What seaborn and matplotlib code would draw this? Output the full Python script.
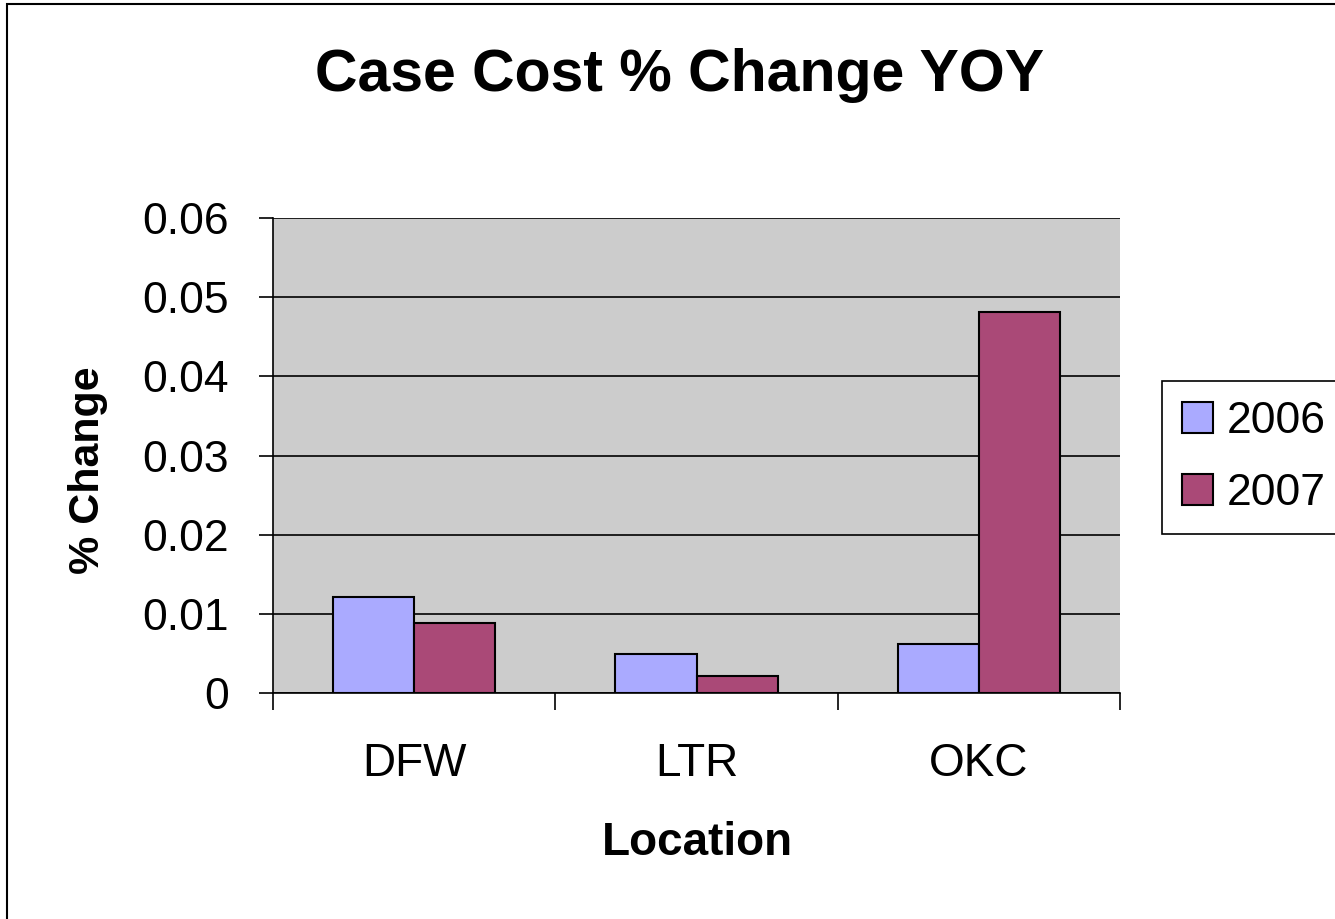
import matplotlib
matplotlib.use("Agg")
import matplotlib.pyplot as plt
import numpy as np
import pandas as pd
import seaborn as sns
from matplotlib.patches import Rectangle

# Data
locations = ["DFW", "LTR", "OKC"]
years = ["2006", "2007"]
change_2006 = [0.0121, 0.0049, 0.0062]
change_2007 = [0.0089, 0.0022, 0.0481]

df = pd.DataFrame({
    "Location": locations * 2,
    "Year": [years[0]] * 3 + [years[1]] * 3,
    "Change": change_2006 + change_2007,
})

sns.set_theme(style="white")
plt.rcParams["font.family"] = ["Liberation Sans", "DejaVu Sans"]
plt.rcParams["text.color"] = "black"
plt.rcParams["xtick.color"] = "black"
plt.rcParams["ytick.color"] = "black"
plt.rcParams["xtick.labelcolor"] = "black"
plt.rcParams["ytick.labelcolor"] = "black"

W, H = 1335, 919
fig = plt.figure(figsize=(W / 100, H / 100), dpi=100)
fig.patch.set_facecolor("white")

# plot area in pixel terms
left, right, top, bottom = 273, 1120, 218, 693
ax = fig.add_axes([left / W, 1 - bottom / H, (right - left) / W, (bottom - top) / H])

sns.barplot(
    data=df,
    x="Location",
    y="Change",
    hue="Year",
    palette=["#AAAAFF", "#AA4977"],
    width=0.575,
    saturation=1,
    edgecolor="black",
    linewidth=1.5,
    ax=ax,
)

ax.set_facecolor("#CCCCCC")
ax.set_ylim(0, 0.06)
ax.set_xlim(-0.5, 2.5)
ax.set_yticks(np.arange(0, 0.061, 0.01))
ax.set_yticklabels(["0", "0.01", "0.02", "0.03", "0.04", "0.05", "0.06"])
ax.yaxis.grid(True, color="black", linewidth=1.2)
ax.set_axisbelow(True)

# category boundary ticks on x axis
ax.set_xticks([-0.5, 0.5, 1.5, 2.5], minor=True)
ax.tick_params(axis="x", which="minor", length=12, width=1.2, color="black", direction="out", bottom=True)
ax.tick_params(axis="x", which="major", length=0, pad=35, labelsize=33)
ax.tick_params(axis="y", which="major", length=10, width=1.2, color="black", direction="out", left=True,
               pad=22, labelsize=32)

for s in ["top", "right"]:
    ax.spines[s].set_visible(False)
for s in ["left", "bottom"]:
    ax.spines[s].set_color("black")
    ax.spines[s].set_linewidth(1.2)

ax.set_xlabel("")
ax.set_ylabel("")

# titles as figure text
fig.text(680 / W, 1 - 91 / H, "Case Cost % Change YOY", ha="center", va="baseline",
         fontsize=42.5, fontweight="bold")
fig.text(697 / W, 1 - 855 / H, "Location", ha="center", va="baseline",
         fontsize=33, fontweight="bold")
fig.text(88 / W, 1 - 470 / H, "% Change", ha="center", va="center", rotation=90,
         fontsize=31, fontweight="bold")

# legend at right
handles, labels = ax.get_legend_handles_labels()
ax.get_legend().remove()
leg = ax.legend(
    handles, labels,
    loc="upper left",
    bbox_to_anchor=(1162 / W, 1 - 381 / H),
    bbox_transform=fig.transFigure,
    fontsize=32,
    frameon=True,
    fancybox=False,
    framealpha=1,
    edgecolor="black",
    handlelength=0.7,
    handleheight=0.7,
    handletextpad=0.3,
    borderpad=0.45,
    borderaxespad=0,
    labelspacing=0.7,
)
leg.get_frame().set_linewidth(1.2)

# outer chart border
fig.patches.append(Rectangle((7 / W, -0.1), 1.2, 1 - 4 / H + 0.1, transform=fig.transFigure,
                             fill=False, edgecolor="black", linewidth=1.5))

fig.savefig("out.png", dpi=100)
